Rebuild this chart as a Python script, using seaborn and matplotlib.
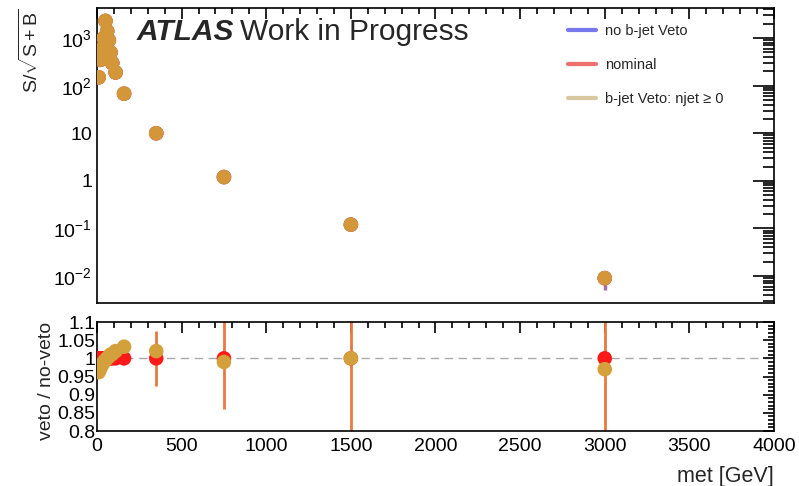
import numpy as np
import pandas as pd
import matplotlib
matplotlib.use("Agg")
import matplotlib.pyplot as plt
from matplotlib.lines import Line2D
from matplotlib.ticker import FixedLocator, MultipleLocator, FuncFormatter, LogLocator, NullFormatter
import seaborn as sns

# MET bin centres [GeV]
met = [10, 20, 30, 40, 50, 60, 70, 80, 90, 110, 160, 350, 750, 1500, 3000]

# S/sqrt(S+B) per selection
signif_noveto = [150, 350, 600, 1000, 2300, 1400, 900, 500, 300, 190, 68, 10, 1.2, 0.12, 0.009]
signif_nominal = [150, 350, 600, 1000, 2300, 1400, 900, 500, 300, 190, 68, 10, 1.2, 0.12, 0.009]
signif_veto = [150, 350, 600, 1000, 2300, 1400, 900, 500, 300, 190, 68, 10, 1.2, 0.12, 0.009]
signif_err = [3, 5, 8, 12, 20, 15, 12, 8, 6, 4, 2, 0.5, 0.08, 0.025, 0.004]

# ratios to the no-veto selection
ratio_nominal = [1.0, 1.0, 1.0, 1.0, 1.0, 1.0, 1.0, 1.0, 1.0, 1.0, 1.0, 1.0, 1.0, 1.0, 1.0]
ratio_veto = [0.962, 0.972, 0.982, 0.99, 0.995, 1.0, 1.005, 1.01, 1.012, 1.02, 1.032, 1.02, 0.99, 1.0, 0.97]
ratio_err = [0.004, 0.004, 0.004, 0.004, 0.004, 0.004, 0.005, 0.006, 0.007, 0.008, 0.01, 0.075, 0.14, 0.5, 0.5]

series_names = ["no b-jet Veto", "nominal", "b-jet Veto: njet \u2265 0"]
line_colors = ["#7878ee", "#f07070", "#d8c8a0"]
marker_colors = {"no b-jet Veto": "#9a7fb8", "nominal": "#e8443a", "b-jet Veto: njet \u2265 0": "#d3973a"}

sns.set_theme(style="white")
plt.rcParams["font.family"] = ["Liberation Sans", "DejaVu Sans"]
plt.rcParams["mathtext.fontset"] = "custom"
plt.rcParams["mathtext.rm"] = "Liberation Sans"
plt.rcParams["mathtext.it"] = "Liberation Sans:italic"
plt.rcParams["mathtext.bf"] = "Liberation Sans:bold"

fig = plt.figure(figsize=(7.99, 4.86), dpi=100)
W, H = 799, 486
ax_top = fig.add_axes([97 / W, (H - 303) / H, 677 / W, 295 / H])
ax_bot = fig.add_axes([97 / W, (H - 431) / H, 677 / W, 109 / H])

top_df = pd.DataFrame({
    "met": met * 3,
    "value": signif_noveto + signif_nominal + signif_veto,
    "series": [series_names[0]] * len(met) + [series_names[1]] * len(met) + [series_names[2]] * len(met),
})

# error bars on the significance
ax_top.errorbar(met, signif_noveto, yerr=signif_err, fmt="none", ecolor="#a070a8", elinewidth=2.5, zorder=1)
sns.scatterplot(data=top_df, x="met", y="value", hue="series", palette=marker_colors,
                s=110, edgecolor="none", legend=False, ax=ax_top, zorder=3)

ax_top.set_yscale("log")
ax_top.set_xlim(0, 4000)
ax_top.set_ylim(0.0027, 4300)

def log_label(v, pos):
    e = int(round(np.log10(v)))
    if e == 0:
        return "1"
    if e == 1:
        return "10"
    return r"$10^{%d}$" % e

ax_top.yaxis.set_major_locator(LogLocator(base=10, numticks=20))
ax_top.yaxis.set_minor_locator(LogLocator(base=10, subs=np.arange(2, 10), numticks=20))
ax_top.yaxis.set_major_formatter(FuncFormatter(log_label))
ax_top.yaxis.set_minor_formatter(NullFormatter())
ax_top.xaxis.set_major_locator(MultipleLocator(500))
ax_top.xaxis.set_minor_locator(MultipleLocator(100))
ax_top.set_xticklabels([])
ax_top.set_xlabel("")
ax_top.set_ylabel(r"S/$\sqrt{\mathrm{S+B}}$", fontsize=14, loc="top", labelpad=8)

# ratio panel
bot_df = pd.DataFrame({
    "met": met * 2,
    "ratio": ratio_nominal + ratio_veto,
    "series": [series_names[1]] * len(met) + [series_names[2]] * len(met),
})
ax_bot.axhline(1.0, color="#aaaaaa", lw=1, ls=(0, (6, 4)), zorder=0)
ax_bot.errorbar(met, ratio_nominal, yerr=ratio_err, fmt="none", ecolor="#e87a40", elinewidth=2, zorder=1)
sns.scatterplot(data=bot_df, x="met", y="ratio", hue="series",
                palette={series_names[1]: "#ff1a1a", series_names[2]: "#d4a03c"},
                s=110, edgecolor="none", legend=False, ax=ax_bot, zorder=3)
ax_bot.set_xlim(0, 4000)
ax_bot.set_ylim(0.8, 1.1)
ax_bot.yaxis.set_major_locator(FixedLocator([0.8, 0.85, 0.9, 0.95, 1.0, 1.05, 1.1]))
ax_bot.yaxis.set_minor_locator(MultipleLocator(0.01))
ax_bot.yaxis.set_major_formatter(FuncFormatter(lambda v, p: ("%g" % round(v, 2))))
ax_bot.xaxis.set_major_locator(MultipleLocator(500))
ax_bot.xaxis.set_minor_locator(MultipleLocator(100))
ax_bot.set_xlabel("met [GeV]", fontsize=15.5, loc="right", labelpad=8)
ax_bot.set_ylabel("veto / no-veto", fontsize=14, loc="top", labelpad=2)

for ax, ymaj, ymin in [(ax_top, 15, 8), (ax_bot, 8, 4)]:
    for sp in ax.spines.values():
        sp.set_color("black")
        sp.set_linewidth(1.2)
    ax.tick_params(axis="both", which="both", direction="in", top=True, right=True,
                   colors="black", labelsize=14, width=1.2)
    ax.tick_params(axis="y", which="major", length=ymaj)
    ax.tick_params(axis="y", which="minor", length=ymin)
    ax.tick_params(axis="x", which="major", length=8, pad=5)
    ax.tick_params(axis="x", which="minor", length=4)
ax_bot.tick_params(axis="y", labelsize=14, pad=1)

ax_top.text(0.058, 0.965, "ATLAS", transform=ax_top.transAxes, fontsize=21.5,
            fontweight="bold", fontstyle="italic", va="top", ha="left")
ax_top.text(0.211, 0.965, "Work in Progress", transform=ax_top.transAxes, fontsize=21.5,
            va="top", ha="left")

handles = [Line2D([0], [0], color=c, lw=3) for c in line_colors]
ax_top.legend(handles, series_names, loc="upper left", bbox_to_anchor=(0.677, 0.99),
              frameon=False, fontsize=10.5, labelspacing=1.38, handlelength=1.9, handletextpad=0.6)

fig.savefig("out.png", dpi=100)
